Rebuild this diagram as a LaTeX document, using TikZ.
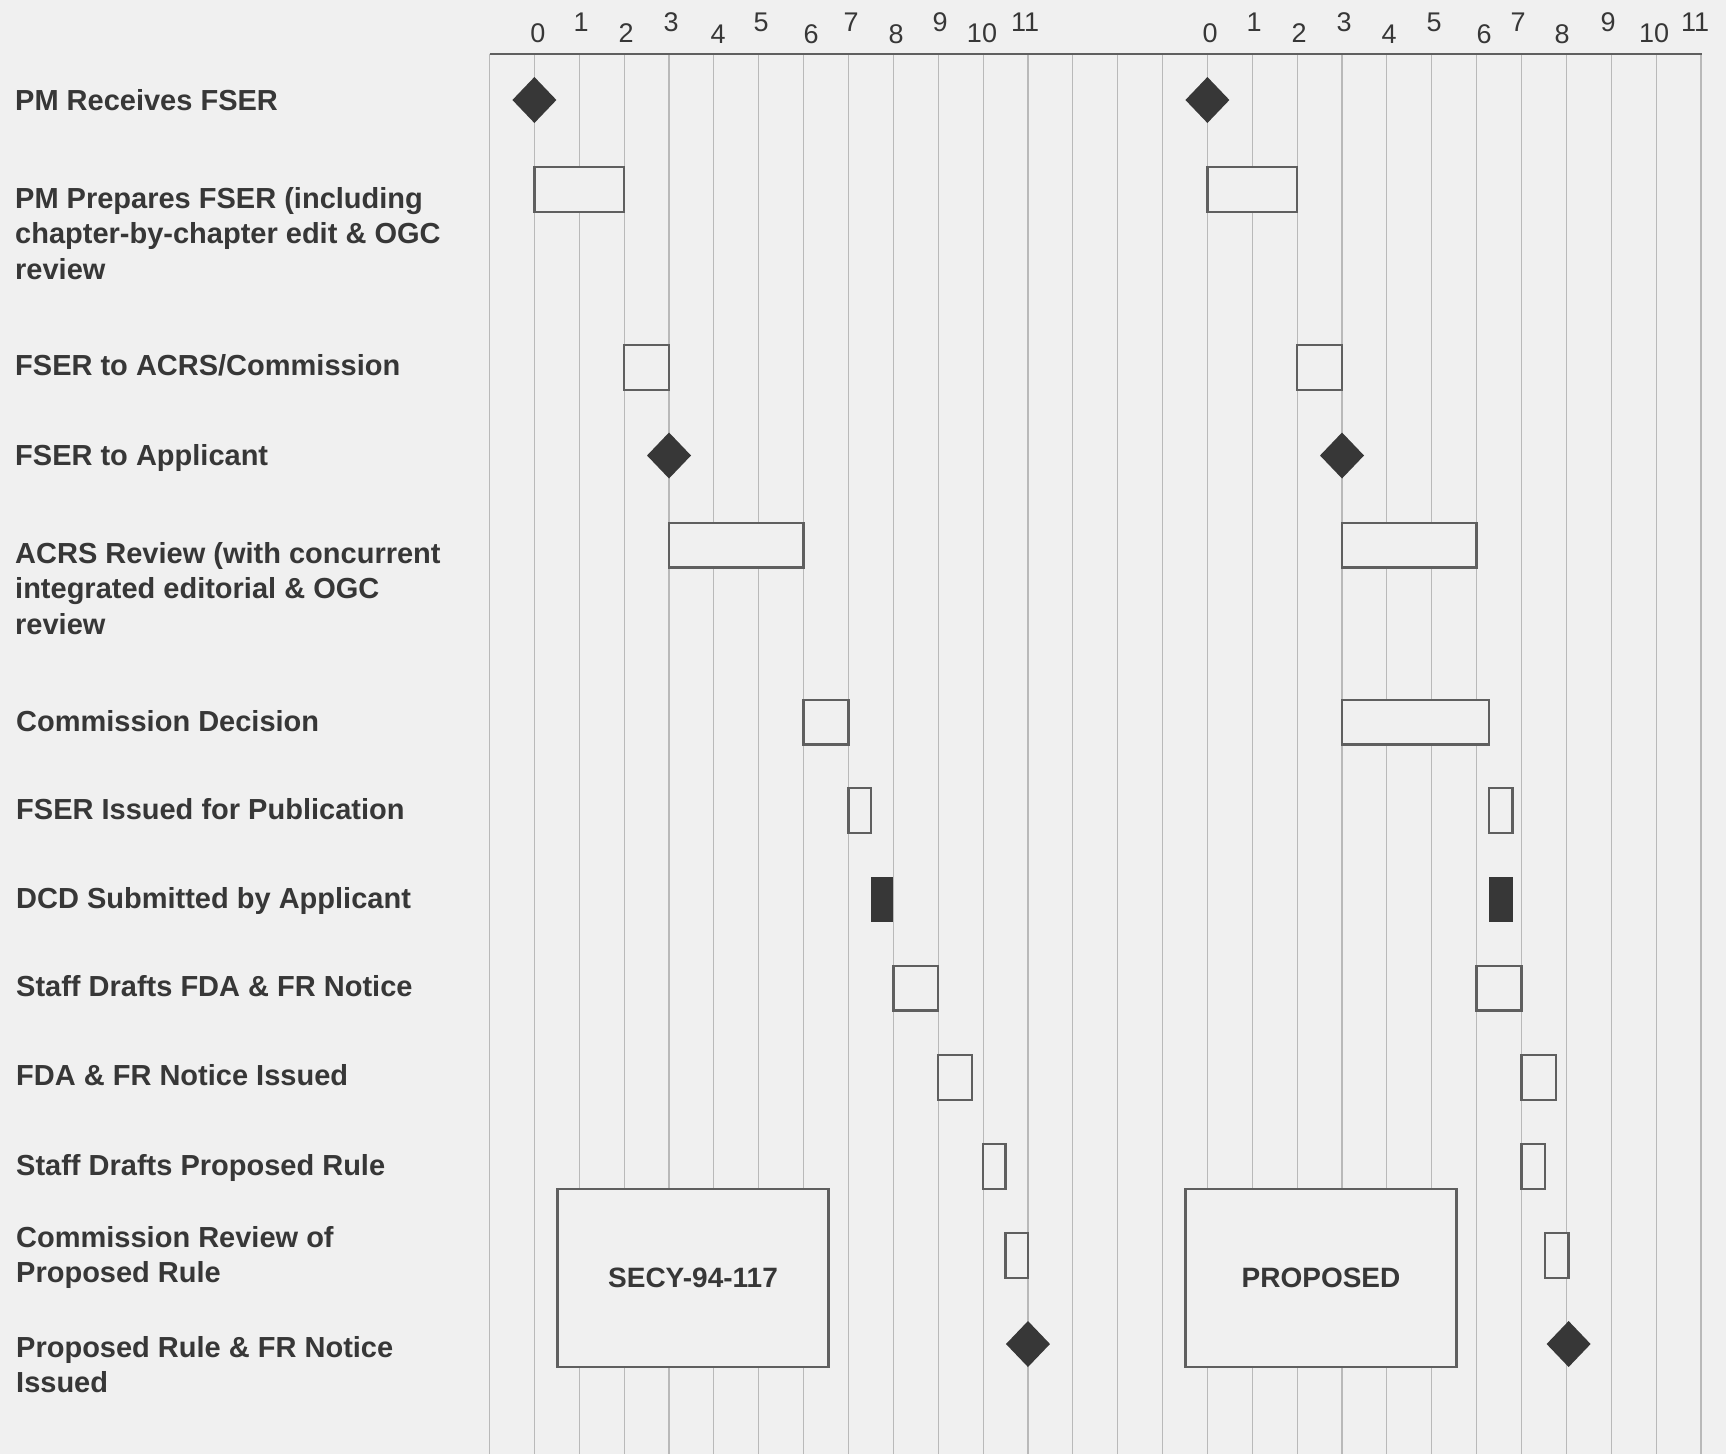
\documentclass[tikz,border=0pt]{standalone}
\usepackage{fontspec}
\setmainfont{Liberation Sans}
\definecolor{bgc}{RGB}{240,240,240}
\definecolor{gridc}{RGB}{185,185,185}
\definecolor{boxc}{RGB}{95,95,95}
\definecolor{darkc}{RGB}{55,55,55}
\definecolor{txtc}{RGB}{55,55,55}
\newcommand{\mylabfont}{\fontsize{29}{35.5}\selectfont\bfseries}
\newcommand{\mynumfont}{\fontsize{27}{30}\selectfont}
\newcommand{\mybigfont}{\fontsize{28}{32}\selectfont\bfseries}
% origin, start, end, row-centre y
\newcommand{\ganttbox}[4]{\draw[barbox] ({#1+44.87*(#2)},{#4-22.3}) rectangle ({#1+44.87*(#3)},{#4+22.3});}
\newcommand{\ganttsolid}[4]{\fill[darkc] ({#1+44.87*(#2)},{#4-22.3}) rectangle ({#1+44.87*(#3)},{#4+22.3});}
\newcommand{\ganttdia}[3]{\fill[darkc] ({#1+44.87*(#2)-22},{#3}) -- ++(22,-23) -- ++(22,23) -- ++(-22,23) -- cycle;}
\begin{document}
\begin{tikzpicture}[x=1pt,y=-1pt,
  gridline/.style={draw=gridc, line width=1.1pt},
  axisline/.style={draw=boxc, line width=2pt},
  barbox/.style={draw=boxc, line width=2.4pt, fill=bgc},
  lab/.style={anchor=base west, inner sep=0pt, font=\mylabfont, text=txtc, align=left},
  num/.style={inner sep=0pt, font=\mynumfont, text=txtc},
  bigbox/.style={draw=boxc, line width=2.4pt, fill=bgc, font=\mybigfont, text=txtc,
    minimum width=271pt, minimum height=178pt, inner sep=0pt}]
\fill[bgc] (0,0) rectangle (1726,1454);
\useasboundingbox (0,0) rectangle (1726,1454);
% grid
\foreach \j in {0,...,27}
  \draw[gridline] ({489.5+44.87*\j},54) -- ({489.5+44.87*\j},1454);
\draw[axisline] (489.5,54) -- (1701.5,54);
% axis numbers, left panel
\node[num] (la0) at (538,33) {0};
\node[num] (la1) at (581,22) {1};
\node[num] (la2) at (626,33) {2};
\node[num] (la3) at (671,22) {3};
\node[num] (la4) at (718,34) {4};
\node[num] (la5) at (761,22) {5};
\node[num] (la6) at (811,34) {6};
\node[num] (la7) at (851,22) {7};
\node[num] (la8) at (896,34) {8};
\node[num] (la9) at (940,22) {9};
\node[num] (la10) at (982,33) {10};
\node[num] (la11) at (1025,22) {11};
% axis numbers, right panel
\node[num] (ra0) at (1210,33) {0};
\node[num] (ra1) at (1254,22) {1};
\node[num] (ra2) at (1299,33) {2};
\node[num] (ra3) at (1344,22) {3};
\node[num] (ra4) at (1389,34) {4};
\node[num] (ra5) at (1434,22) {5};
\node[num] (ra6) at (1484,34) {6};
\node[num] (ra7) at (1518,22) {7};
\node[num] (ra8) at (1562,34) {8};
\node[num] (ra9) at (1608,22) {9};
\node[num] (ra10) at (1654,33) {10};
\node[num] (ra11) at (1695,22) {11};
% row labels (base = baseline of the last line)
\node[lab] (t1) at (15,110) {PM Receives FSER};
\node[lab] (t2) at (15,279) {PM Prepares FSER (including\\chapter-by-chapter edit \& OGC\\review};
\node[lab] (t3) at (15,375) {FSER to ACRS/Commission};
\node[lab] (t4) at (15,465) {FSER to Applicant};
\node[lab] (t5) at (15,634) {ACRS Review (with concurrent\\integrated editorial \& OGC\\review};
\node[lab] (t6) at (16,731) {Commission Decision};
\node[lab] (t7) at (16,819) {FSER Issued for Publication};
\node[lab] (t8) at (16,908) {DCD Submitted by Applicant};
\node[lab] (t9) at (16,996) {Staff Drafts FDA \& FR Notice};
\node[lab] (t10) at (16,1085) {FDA \& FR Notice Issued};
\node[lab] (t11) at (16,1175) {Staff Drafts Proposed Rule};
\node[lab] (t12) at (16,1282.5) {Commission Review of\\Proposed Rule};
\node[lab] (t13) at (16,1392.5) {Proposed Rule \& FR Notice\\Issued};
% left panel (origin 534.4)
\ganttdia{534.4}{0}{100}
\ganttbox{534.4}{0}{2}{189.5}
\ganttbox{534.4}{2}{3}{367.5}
\ganttdia{534.4}{3}{455.5}
\ganttbox{534.4}{3}{6}{545}
\ganttbox{534.4}{6}{7}{722}
\ganttbox{534.4}{7}{7.5}{810.5}
\ganttsolid{534.4}{7.5}{8}{899.5}
\ganttbox{534.4}{8}{9}{988}
\ganttbox{534.4}{9}{9.75}{1077.5}
\ganttbox{534.4}{10}{10.5}{1166.5}
\ganttbox{534.4}{10.5}{11}{1255.5}
\ganttdia{534.4}{11}{1344}
% right panel (origin 1207.4)
\ganttdia{1207.4}{0}{100}
\ganttbox{1207.4}{0}{2}{189.5}
\ganttbox{1207.4}{2}{3}{367.5}
\ganttdia{1207.4}{3}{455.5}
\ganttbox{1207.4}{3}{6}{545}
\ganttbox{1207.4}{3}{6.27}{722}
\ganttbox{1207.4}{6.27}{6.8}{810.5}
\ganttsolid{1207.4}{6.27}{6.8}{899.5}
\ganttbox{1207.4}{6}{7}{988}
\ganttbox{1207.4}{7}{7.77}{1077.5}
\ganttbox{1207.4}{7}{7.53}{1166.5}
\ganttbox{1207.4}{7.53}{8.05}{1255.5}
\ganttdia{1207.4}{8.05}{1344}
% big boxes
\node[bigbox] (secy) at (693,1278) {SECY-94-117};
\node[bigbox] (prop) at (1321,1278) {PROPOSED};
\end{tikzpicture}
\end{document}
